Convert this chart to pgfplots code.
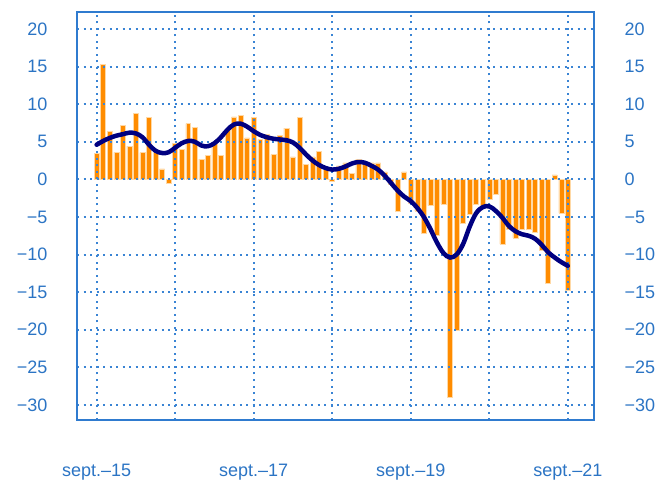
\documentclass[border=0pt]{standalone}
\usepackage{fontspec}
\setmainfont{Liberation Sans}
\usepackage{pgfplots}
\pgfplotsset{compat=1.18}
\definecolor{barorange}{HTML}{FF8C00}
\definecolor{baredge}{HTML}{FFD9A6}
\definecolor{gridblue}{HTML}{3A84D4}
\definecolor{frameblue}{HTML}{2F7BCF}
\definecolor{labelblue}{HTML}{2B74C4}
\definecolor{linenavy}{HTML}{000080}

\pgfplotstableread{
x y
0 3.5
1 15.3
2 6.4
3 3.6
4 7.2
5 4.4
6 8.8
7 3.55
8 8.2
9 3.6
10 1.4
11 -0.55
12 4.8
13 4.0
14 7.4
15 6.9
16 2.7
17 3.2
18 4.9
19 3.2
20 6.5
21 8.3
22 8.5
23 5.5
24 8.2
25 5.3
26 6.0
27 3.3
28 5.8
29 6.8
30 3.0
31 8.2
32 2.0
33 3.0
34 3.7
35 1.5
36 -0.3
37 1.8
38 2.2
39 0.8
40 2.7
41 2.1
42 2.2
43 2.2
44 1.0
45 -0.7
46 -4.3
47 1.0
48 -3.2
49 -4.2
50 -7.2
51 -3.5
52 -7.4
53 -3.3
54 -29.0
55 -20.0
56 -5.9
57 -4.7
58 -3.3
59 -3.4
60 -2.7
61 -1.95
62 -8.6
63 -6.7
64 -7.8
65 -6.6
66 -6.6
67 -7.1
68 -9.4
69 -13.8
70 0.6
71 -4.5
72 -14.8
}\bars

\pgfplotstableread{
x y
0 4.6
1 5.1
2 5.5
3 5.8
4 6.0
5 6.2
6 6.1
7 5.6
8 4.6
9 3.8
10 3.5
11 3.6
12 4.2
13 4.8
14 5.1
15 5.0
16 4.5
17 4.4
18 4.8
19 5.6
20 6.6
21 7.3
22 7.4
23 7.0
24 6.4
25 5.9
26 5.6
27 5.4
28 5.3
29 5.2
30 4.9
31 4.2
32 3.3
33 2.5
34 1.9
35 1.5
36 1.3
37 1.4
38 1.7
39 2.1
40 2.3
41 2.2
42 1.8
43 1.3
44 0.5
45 -0.5
46 -1.5
47 -2.3
48 -2.9
49 -3.8
50 -5.0
51 -6.6
52 -8.4
53 -9.8
54 -10.4
55 -10.0
56 -8.6
57 -6.3
58 -4.5
59 -3.7
60 -3.6
61 -4.2
62 -5.1
63 -6.2
64 -6.9
65 -7.3
66 -7.5
67 -7.9
68 -8.7
69 -9.7
70 -10.4
71 -11.0
72 -11.5
}\trend

\begin{document}
\begin{tikzpicture}
\useasboundingbox (-77pt,-61pt) rectangle (583pt,420pt);
\begin{axis}[
  at={(0pt,0pt)}, anchor=south west,
  scale only axis, width=517pt, height=408pt,
  xmin=-3, xmax=76, ymin=-32, ymax=22.25,
  axis on top,
  xtick={0,24,48,72},
  xticklabels={sept.–15,sept.–17,sept.–19,sept.–21},
  minor xtick={12,36,60},
  ytick={-30,-25,...,20},
  yticklabels={−30,−25,−20,−15,−10,−5,0,5,10,15,20},
  grid=both,
  major grid style={gridblue, line width=2pt, dash pattern=on 2pt off 4.5pt},
  minor grid style={gridblue, line width=2pt, dash pattern=on 2pt off 4.5pt},
  axis line style={frameblue, line width=1.6pt},
  major tick length=0pt, minor tick length=0pt,
  tick label style={labelblue, font=\fontsize{18}{21}\selectfont},
  yticklabel style={xshift=-26pt},
  xticklabel style={yshift=-40.5pt},
]
\addplot[ybar, bar width=0.76, fill=barorange, draw=baredge, line width=0.5pt] table[x=x,y=y] {\bars};
\end{axis}
\begin{axis}[
  at={(0pt,0pt)}, anchor=south west,
  scale only axis, width=517pt, height=408pt,
  xmin=-3, xmax=76, ymin=-32, ymax=22.25,
  axis x line=none, axis y line*=right,
  ytick={-30,-25,...,20},
  yticklabels={−30,−25,−20,−15,−10,−5,0,5,10,15,20},
  axis line style={frameblue, line width=1.6pt},
  major tick length=0pt,
  tick label style={labelblue, font=\fontsize{18}{21}\selectfont},
  yticklabel style={xshift=27pt},
]
\addplot[linenavy, line width=4.5pt, smooth, tension=0.6, line cap=round] table[x=x,y=y] {\trend};
\end{axis}
\end{tikzpicture}
\end{document}
